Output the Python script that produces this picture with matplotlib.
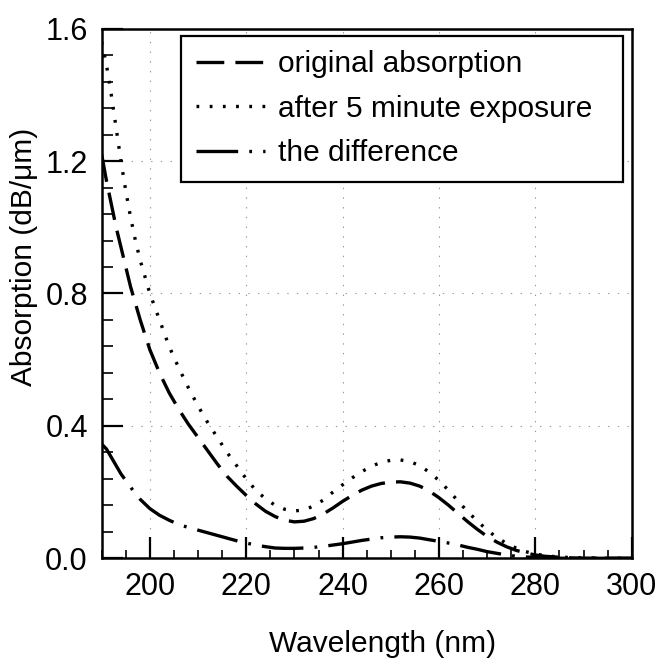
import matplotlib
matplotlib.use("Agg")
import matplotlib.pyplot as plt
from matplotlib.ticker import MultipleLocator, FormatStrFormatter

plt.rcParams['font.family'] = ['Liberation Sans', 'DejaVu Sans']
plt.rcParams['lines.scale_dashes'] = False

wavelength = [190, 191, 192, 193, 194, 195, 196, 197, 198, 200, 202, 204, 206, 208, 210,
              212, 214, 216, 218, 220, 222, 224, 226, 228, 230, 232, 234, 236, 238, 240,
              242, 244, 246, 248, 250, 252, 254, 256, 258, 260, 262, 264, 266, 268, 270,
              272, 274, 276, 278, 280, 282, 284, 286, 288, 290, 295, 300]

original = [1.22, 1.14, 1.07, 1.00, 0.94, 0.88, 0.82, 0.77, 0.72, 0.63, 0.56, 0.50, 0.45, 0.405, 0.365,
            0.325, 0.285, 0.248, 0.218, 0.19, 0.164, 0.142, 0.126, 0.115, 0.11, 0.112, 0.12, 0.134, 0.152, 0.172,
            0.19, 0.206, 0.218, 0.226, 0.23, 0.231, 0.227, 0.218, 0.203, 0.183, 0.16, 0.135, 0.11, 0.087, 0.066,
            0.049, 0.035, 0.024, 0.016, 0.01, 0.006, 0.004, 0.002, 0.001, 0.0005, 0.0, 0.0]

after = [1.56, 1.49, 1.40, 1.30, 1.20, 1.11, 1.03, 0.96, 0.90, 0.80, 0.72, 0.64, 0.575, 0.515, 0.46,
         0.41, 0.365, 0.32, 0.28, 0.24, 0.205, 0.18, 0.16, 0.148, 0.143, 0.146, 0.158, 0.176, 0.200, 0.222,
         0.243, 0.262, 0.278, 0.29, 0.296, 0.297, 0.292, 0.28, 0.26, 0.235, 0.205, 0.172, 0.14, 0.112, 0.085,
         0.063, 0.045, 0.031, 0.02, 0.013, 0.008, 0.005, 0.003, 0.002, 0.001, 0.0, 0.0]

difference = [0.345, 0.33, 0.305, 0.28, 0.255, 0.235, 0.215, 0.195, 0.178, 0.15, 0.13, 0.115, 0.102, 0.093, 0.085,
              0.077, 0.069, 0.061, 0.053, 0.046, 0.04, 0.035, 0.031, 0.03, 0.03, 0.031, 0.033, 0.036, 0.04, 0.044,
              0.049, 0.054, 0.058, 0.062, 0.064, 0.065, 0.064, 0.061, 0.056, 0.051, 0.046, 0.04, 0.033, 0.027, 0.02,
              0.015, 0.01, 0.006, 0.004, 0.002, 0.001, 0.0005, 0.0, 0.0, 0.0, 0.0, 0.0]

labels = ["original absorption", "after 5 minute exposure", "the difference"]
x_ticks = [200, 220, 240, 260, 280, 300]
y_ticks = [0.0, 0.4, 0.8, 1.2, 1.6]

fig = plt.figure(figsize=(6.56, 6.67), dpi=100)
ax = fig.add_axes([0.155, 0.163, 0.808, 0.794])

lw = 2.4
ax.plot(wavelength, original, color='black', lw=lw, dashes=(20, 8), label=labels[0])
ax.plot(wavelength, after, color='black', lw=lw, dashes=(2, 7.5), label=labels[1])
ax.plot(wavelength, difference, color='black', lw=lw, dashes=(30, 8, 2, 8), label=labels[2])

ax.set_xlim(190, 300)
ax.set_ylim(0, 1.6)
ax.set_xticks(x_ticks)
ax.set_yticks(y_ticks)
ax.xaxis.set_minor_locator(MultipleLocator(5))
ax.yaxis.set_minor_locator(MultipleLocator(0.08))
ax.yaxis.set_major_formatter(FormatStrFormatter('%.1f'))

ax.grid(True, which='major', color='#999999', lw=0.8, linestyle=(0, (1, 6)))
ax.set_axisbelow(True)

ax.tick_params(which='major', direction='in', length=15, width=1.6, labelsize=22, pad=10)
ax.tick_params(which='minor', direction='in', length=6, width=1.2)
ax.tick_params(axis='y', which='minor', length=8)
for s in ax.spines.values():
    s.set_linewidth(1.8)

ax.set_xlabel("Wavelength (nm)", fontsize=21.5)
ax.set_ylabel("Absorption (dB/\u03bcm)", fontsize=21.5)
ax.xaxis.set_label_coords(0.529, -0.136)
ax.yaxis.set_label_coords(-0.12, 0.57)

leg = ax.legend(loc='upper left', bbox_to_anchor=(0.150, 0.5, 0.833, 0.487), mode='expand',
                borderaxespad=0, fontsize=21.5,
                frameon=True, fancybox=False, edgecolor='black', handlelength=2.3,
                borderpad=0.5, labelspacing=0.55, handletextpad=0.45)
leg.get_frame().set_linewidth(1.6)
leg.get_frame().set_alpha(1)

fig.savefig("out.png", dpi=100)
